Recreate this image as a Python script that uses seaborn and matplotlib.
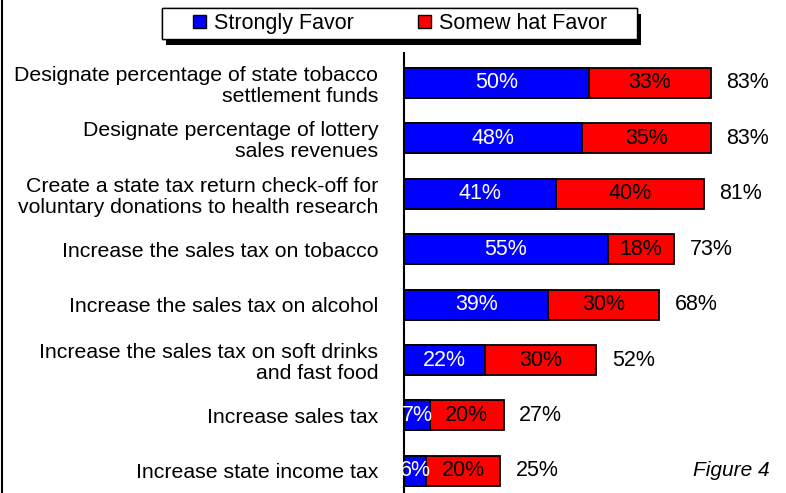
import matplotlib
matplotlib.use("Agg")
import matplotlib.pyplot as plt
import matplotlib.patheffects as pe
from matplotlib.patches import Patch, Rectangle
from matplotlib.lines import Line2D
import numpy as np
import pandas as pd
import seaborn as sns

# Survey items (top to bottom) and support shares
categories = [
    "Designate percentage of state tobacco\nsettlement funds",
    "Designate percentage of lottery\nsales revenues",
    "Create a state tax return check-off for\nvoluntary donations to health research",
    "Increase the sales tax on tobacco",
    "Increase the sales tax on alcohol",
    "Increase the sales tax on soft drinks\nand fast food",
    "Increase sales tax",
    "Increase state income tax",
]
strongly_favor = [50, 48, 41, 55, 39, 22, 7, 6]
somewhat_favor = [33, 35, 40, 18, 30, 30, 20, 20]
total_labels = ["83%", "83%", "81%", "73%", "68%", "52%", "27%", "25%"]
legend_labels = ["Strongly Favor", "Somew hat Favor"]

BLUE = "#0000FF"
RED = "#FF0000"

sns.set_style("white")
plt.rcParams["font.family"] = ["Liberation Sans", "DejaVu Sans"]
plt.rcParams["font.size"] = 15.3
plt.rcParams["text.color"] = "black"
plt.rcParams["ytick.color"] = "black"
plt.rcParams["ytick.labelcolor"] = "black"

df = pd.DataFrame({
    "item": categories,
    "strong": strongly_favor,
    "somewhat": somewhat_favor,
})
df["stacked"] = df["strong"] + df["somewhat"]

W, H = 786, 493
fig = plt.figure(figsize=(W / 100, H / 100), dpi=100)
ax = fig.add_axes([404 / W, 0, (W - 404) / W, 440 / H])

bar_kw = dict(orient="h", width=0.54, edgecolor="black", linewidth=1.3,
              saturation=1, errorbar=None, ax=ax)
# red segment sits behind the blue one, extending to the stacked end
sns.barplot(data=df, x="stacked", y="item", color=RED, **bar_kw)
sns.barplot(data=df, x="strong", y="item", color=BLUE, **bar_kw)

ax.set_xlim(0, (W - 404) / 3.7)
ax.set_ylim(7.40, -0.54)
ax.set_xlabel("")
ax.set_ylabel("")
ax.set_xticks([])

for s in ["top", "right", "bottom"]:
    ax.spines[s].set_visible(False)
ax.spines["left"].set_color("black")
ax.spines["left"].set_linewidth(1.5)

ax.tick_params(axis="y", length=0, pad=18.5, colors="black")
for lbl in ax.get_yticklabels():
    lbl.set_multialignment("right")
    lbl.set_linespacing(1.12)
    lbl.set_fontsize(15.3)
    lbl.set_color("black")

# value labels inside each segment and totals past the bar end
for i, (s, m, t) in enumerate(zip(strongly_favor, somewhat_favor, total_labels)):
    ax.text(s / 2, i, f"{s}%", ha="center", va="center", color="white", fontsize=15.5)
    ax.text(s + m / 2, i, f"{m}%", ha="center", va="center", color="black", fontsize=15.5)
    ax.annotate(t, xy=(s + m, i), xytext=(11, 0), textcoords="offset points",
                ha="left", va="center", color="black", fontsize=15.5)

# legend box with a solid drop shadow
box = Rectangle((162 / W, 1 - 39 / H), (637 - 162) / W, 31 / H,
                transform=fig.transFigure, facecolor="white", edgecolor="black",
                linewidth=1.0, zorder=5)
box.set_path_effects([
    pe.withSimplePatchShadow(offset=(3, -4.5), shadow_rgbFace="black", alpha=1.0),
    pe.Normal(),
])
fig.add_artist(box)

handles = [Patch(facecolor=BLUE, edgecolor="black", linewidth=1.0),
           Patch(facecolor=RED, edgecolor="black", linewidth=1.0)]
leg = fig.legend(handles, legend_labels, loc="center",
                 bbox_to_anchor=(400 / W, 1 - 23.5 / H), ncol=2, fontsize=15.5,
                 frameon=False,
                 handlelength=0.6, handleheight=0.6, handletextpad=0.35,
                 columnspacing=3.0, borderpad=0.0, borderaxespad=0)
leg.set_zorder(6)

fig.text(770 / W, 1 - 470 / H, "Figure 4", ha="right", va="center",
         style="italic", fontsize=15)

fig.add_artist(Line2D([1.5 / W, 1.5 / W], [0, 1], transform=fig.transFigure,
                      color="black", linewidth=1.5))

fig.savefig("out.png", dpi=100)
